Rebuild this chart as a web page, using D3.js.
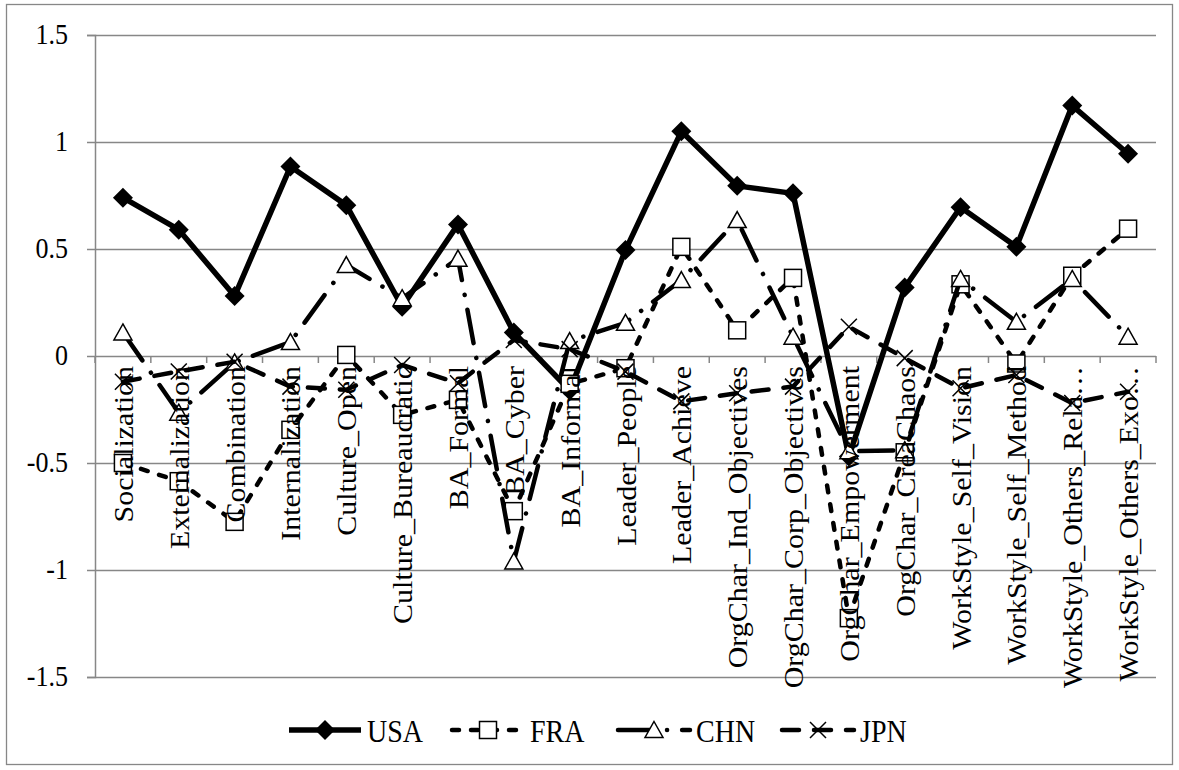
<!DOCTYPE html>
<html>
<head>
<meta charset="utf-8">
<script src="https://cdn.jsdelivr.net/npm/d3@7/dist/d3.min.js"></script>
<style>
  html, body { margin: 0; padding: 0; background: #fff; }
  svg { display: block; }
  svg text { font-family: 'Liberation Serif', 'Times New Roman', serif !important; fill: #000; }
</style>
</head>
<body>
<svg id="chart" width="1179" height="770"></svg>
<script>
const categories = [
  "Socialization", "Externalization", "Combination", "Internalization",
  "Culture_Open", "Culture_Bureaucratic", "BA_Formal", "BA_Cyber", "BA_Informal",
  "Leader_People", "Leader_Achieve", "OrgChar_Ind_Objectives", "OrgChar_Corp_Objectives",
  "OrgChar_Empowerment", "OrgChar_CreaChaos", "WorkStyle_Self_Vision",
  "WorkStyle_Self_Method", "WorkStyle_Others_Rela\u2026", "WorkStyle_Others_Exo\u2026"
];
const usaValues = [0.74, 0.59, 0.28, 0.885, 0.705, 0.23, 0.615, 0.11, -0.16, 0.495, 1.05, 0.795, 0.76, -0.47, 0.32, 0.695, 0.51, 1.17, 0.945];
const fraValues = [-0.50, -0.585, -0.775, -0.345, 0.005, -0.275, -0.205, -0.725, -0.13, -0.057, 0.51, 0.12, 0.365, -1.225, -0.45, 0.335, -0.035, 0.375, 0.595];
const chnValues = [0.11, -0.265, -0.03, 0.065, 0.425, 0.27, 0.455, -0.96, 0.07, 0.155, 0.355, 0.635, 0.09, -0.445, -0.44, 0.36, 0.16, 0.36, 0.09];
const jpnValues = [-0.12, -0.072, -0.027, -0.143, -0.158, -0.042, -0.127, 0.075, 0.032, -0.073, -0.212, -0.174, -0.143, 0.137, -0.01, -0.151, -0.089, -0.22, -0.167];
const seriesNames = ["USA", "FRA", "CHN", "JPN"];
const yTickValues = [-1.5, -1, -0.5, 0, 0.5, 1, 1.5];
const yTickLabels = ["-1.5", "-1", "-0.5", "0", "0.5", "1", "1.5"];

const series = [
  { name: seriesNames[0], values: usaValues, marker: "diamond", dash: null, width: 5.5 },
  { name: seriesNames[1], values: fraValues, marker: "square", dash: "7,12", width: 4.5 },
  { name: seriesNames[2], values: chnValues, marker: "triangle", dash: "34,15,0.1,15", width: 4.5 },
  { name: seriesNames[3], values: jpnValues, marker: "x", dash: "17,15", width: 4.5 }
];

const svg = d3.select("#chart");
const W = 1179, H = 770;
const plotLeft = 95, plotRight = 1156, plotTop = 35, plotBottom = 677;
const gridColor = "#878787";
const serif = "'Liberation Serif', 'Times New Roman', serif";

svg.append("rect").attr("x", 0).attr("y", 0).attr("width", W).attr("height", H).attr("fill", "#fff");
svg.append("rect").attr("x", 6.5).attr("y", 4.5).attr("width", 1166).attr("height", 760)
  .attr("fill", "none").attr("stroke", gridColor).attr("stroke-width", 1.3);

const x = d3.scaleBand().domain(categories).range([plotLeft, plotRight]).padding(0);
const y = d3.scaleLinear().domain([-1.5, 1.5]).range([plotBottom, plotTop]);
const cx = c => x(c) + x.bandwidth() / 2;

// gridlines
const grid = svg.append("g")
  .attr("transform", `translate(${plotLeft},0)`)
  .call(d3.axisLeft(y).tickValues(yTickValues).tickSize(-(plotRight - plotLeft)).tickFormat(""));
grid.select(".domain").remove();
grid.selectAll(".tick line").attr("stroke", gridColor).attr("stroke-width", 1.5);

// y axis
const yAxis = svg.append("g")
  .attr("transform", `translate(${plotLeft},0)`)
  .call(d3.axisLeft(y).tickValues(yTickValues).tickSize(8).tickPadding(19)
    .tickFormat((d, i) => yTickLabels[i]));
yAxis.attr("font-family", null);
yAxis.select(".domain").attr("stroke", gridColor).attr("stroke-width", 1.5);
yAxis.selectAll(".tick line").attr("stroke", gridColor).attr("stroke-width", 1.5);
yAxis.selectAll(".tick text")
  .style("font-family", serif)
  .attr("font-size", 26)
  .attr("fill", "#000")
  .attr("dy", "0.30em")
  .attr("transform", "scale(1,1.13)");

// category axis tick marks (at band boundaries on the zero line)
const boundaries = d3.range(categories.length + 1).map(i => plotLeft + i * x.step());
svg.append("g").selectAll("line").data(boundaries).join("line")
  .attr("x1", d => d).attr("x2", d => d)
  .attr("y1", y(0)).attr("y2", y(0) + 7)
  .attr("stroke", gridColor).attr("stroke-width", 1.5);

// marker drawing
function drawMarker(g, type) {
  if (type === "diamond") {
    g.append("path").attr("d", "M0,-10L10,0L0,10L-10,0Z").attr("fill", "#000");
  } else if (type === "square") {
    g.append("rect").attr("x", -8.5).attr("y", -8.5).attr("width", 17).attr("height", 17)
      .attr("fill", "#fff").attr("stroke", "#000").attr("stroke-width", 1.5);
  } else if (type === "triangle") {
    g.append("path").attr("d", "M0,-8.5L9,7.5L-9,7.5Z")
      .attr("fill", "#fff").attr("stroke", "#000").attr("stroke-width", 1.5);
  } else if (type === "x") {
    g.append("path").attr("d", "M-8,-8L8,8M-8,8L8,-8")
      .attr("fill", "none").attr("stroke", "#000").attr("stroke-width", 1.5);
  }
}

const line = d3.line().x((d, i) => cx(categories[i])).y(d => y(d));

const plot = svg.append("g");
series.forEach(s => {
  const g = plot.append("g");
  g.append("path").datum(s.values).attr("d", line)
    .attr("fill", "none").attr("stroke", "#000").attr("stroke-width", s.width)
    .attr("stroke-linejoin", "round")
    .attr("stroke-linecap", s.dash ? "round" : "butt")
    .attr("stroke-dasharray", s.dash);
  s.values.forEach((v, i) => {
    const mg = g.append("g").attr("transform", `translate(${cx(categories[i])},${y(v)})`);
    drawMarker(mg, s.marker);
  });
});

// category labels (rotated)
svg.append("g").selectAll("text").data(categories).join("text")
  .attr("transform", d => `translate(${cx(d) + 10},${y(0) + 10}) rotate(-90) scale(1.11,1)`)
  .attr("text-anchor", "end")
  .attr("font-size", 27)
  .style("font-family", serif)
  .text(d => d);

// legend
const legendMarkerX = [325, 488, 654, 818];
const legendY = 730;
const legend = svg.append("g");
series.forEach((s, i) => {
  const g = legend.append("g");
  const mx = legendMarkerX[i];
  g.append("line").attr("x1", mx - 36).attr("x2", mx + 36).attr("y1", legendY).attr("y2", legendY)
    .attr("stroke", "#000").attr("stroke-width", s.width)
    .attr("stroke-linecap", s.dash ? "round" : "butt")
    .attr("stroke-dasharray", s.dash);
  const mg = g.append("g").attr("transform", `translate(${mx},${legendY})`);
  drawMarker(mg, s.marker);
  g.append("text").attr("transform", `translate(${mx + 42},${legendY + 12}) scale(1,1.13)`)
    .attr("font-size", 28)
    .style("font-family", serif)
    .text(s.name);
});
</script>
</body>
</html>
